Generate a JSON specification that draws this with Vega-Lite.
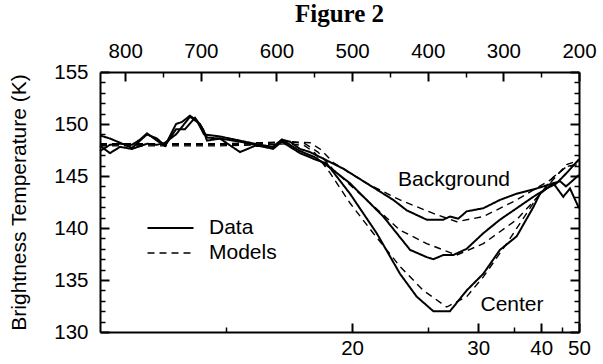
{
  "$schema": "https://vega.github.io/schema/vega-lite/v6.json",
  "width": 479,
  "height": 260,
  "autosize": {"type": "none"},
  "padding": {"left": 100, "top": 72, "right": 24, "bottom": 32},
  "background": "white",
  "title": {"text": "Figure 2", "font": "Liberation Serif", "fontSize": 25, "fontWeight": "bold", "color": "black", "anchor": "middle", "offset": 14},
  "config": {
    "view": {"stroke": null},
    "axis": {"grid": false, "domainColor": "black", "tickColor": "black", "labelColor": "black", "titleColor": "black", "labelFont": "Liberation Sans", "titleFont": "Liberation Sans", "labelFontSize": 20.5, "titleFontSize": 21, "titleFontWeight": "normal", "domainWidth": 2}
  },
  "data": {"values": [
    {"kind": "Data", "curve": "Background", "wavenumber": 833.3, "temp": 148.9},
    {"kind": "Data", "curve": "Background", "wavenumber": 820.1, "temp": 148.6},
    {"kind": "Data", "curve": "Background", "wavenumber": 806.9, "temp": 148.2},
    {"kind": "Data", "curve": "Background", "wavenumber": 791.0, "temp": 147.7},
    {"kind": "Data", "curve": "Background", "wavenumber": 771.2, "temp": 149.0},
    {"kind": "Data", "curve": "Background", "wavenumber": 758.0, "temp": 148.6},
    {"kind": "Data", "curve": "Background", "wavenumber": 747.4, "temp": 147.9},
    {"kind": "Data", "curve": "Background", "wavenumber": 732.8, "temp": 150.0},
    {"kind": "Data", "curve": "Background", "wavenumber": 724.9, "temp": 150.2},
    {"kind": "Data", "curve": "Background", "wavenumber": 714.3, "temp": 150.8},
    {"kind": "Data", "curve": "Background", "wavenumber": 705.1, "temp": 150.3},
    {"kind": "Data", "curve": "Background", "wavenumber": 695.8, "temp": 149.0},
    {"kind": "Data", "curve": "Background", "wavenumber": 674.7, "temp": 148.8},
    {"kind": "Data", "curve": "Background", "wavenumber": 648.2, "temp": 148.4},
    {"kind": "Data", "curve": "Background", "wavenumber": 621.8, "temp": 148.0},
    {"kind": "Data", "curve": "Background", "wavenumber": 604.6, "temp": 147.8},
    {"kind": "Data", "curve": "Background", "wavenumber": 592.7, "temp": 148.5},
    {"kind": "Data", "curve": "Background", "wavenumber": 582.1, "temp": 148.3},
    {"kind": "Data", "curve": "Background", "wavenumber": 568.9, "temp": 147.6},
    {"kind": "Data", "curve": "Background", "wavenumber": 555.7, "temp": 147.3},
    {"kind": "Data", "curve": "Background", "wavenumber": 533.6, "temp": 146.5},
    {"kind": "Data", "curve": "Background", "wavenumber": 511.6, "temp": 145.7},
    {"kind": "Data", "curve": "Background", "wavenumber": 480.7, "temp": 144.3},
    {"kind": "Data", "curve": "Background", "wavenumber": 445.5, "temp": 142.7},
    {"kind": "Data", "curve": "Background", "wavenumber": 427.8, "temp": 141.7},
    {"kind": "Data", "curve": "Background", "wavenumber": 401.4, "temp": 140.8},
    {"kind": "Data", "curve": "Background", "wavenumber": 379.4, "temp": 140.8},
    {"kind": "Data", "curve": "Background", "wavenumber": 370.6, "temp": 141.1},
    {"kind": "Data", "curve": "Background", "wavenumber": 359.6, "temp": 140.9},
    {"kind": "Data", "curve": "Background", "wavenumber": 348.5, "temp": 141.6},
    {"kind": "Data", "curve": "Background", "wavenumber": 326.5, "temp": 141.9},
    {"kind": "Data", "curve": "Background", "wavenumber": 304.5, "temp": 142.7},
    {"kind": "Data", "curve": "Background", "wavenumber": 282.4, "temp": 143.3},
    {"kind": "Data", "curve": "Background", "wavenumber": 260.4, "temp": 143.7},
    {"kind": "Data", "curve": "Background", "wavenumber": 233.9, "temp": 144.3},
    {"kind": "Data", "curve": "Background", "wavenumber": 225.1, "temp": 144.5},
    {"kind": "Data", "curve": "Background", "wavenumber": 217.2, "temp": 144.0},
    {"kind": "Data", "curve": "Background", "wavenumber": 200.0, "temp": 145.1},
    {"kind": "Data", "curve": "Middle", "wavenumber": 833.3, "temp": 147.4},
    {"kind": "Data", "curve": "Middle", "wavenumber": 820.1, "temp": 148.0},
    {"kind": "Data", "curve": "Middle", "wavenumber": 806.9, "temp": 148.1},
    {"kind": "Data", "curve": "Middle", "wavenumber": 791.0, "temp": 148.0},
    {"kind": "Data", "curve": "Middle", "wavenumber": 780.4, "temp": 148.5},
    {"kind": "Data", "curve": "Middle", "wavenumber": 771.2, "temp": 149.1},
    {"kind": "Data", "curve": "Middle", "wavenumber": 758.0, "temp": 148.4},
    {"kind": "Data", "curve": "Middle", "wavenumber": 747.4, "temp": 147.9},
    {"kind": "Data", "curve": "Middle", "wavenumber": 732.8, "temp": 149.5},
    {"kind": "Data", "curve": "Middle", "wavenumber": 720.9, "temp": 149.5},
    {"kind": "Data", "curve": "Middle", "wavenumber": 707.7, "temp": 150.6},
    {"kind": "Data", "curve": "Middle", "wavenumber": 697.1, "temp": 149.5},
    {"kind": "Data", "curve": "Middle", "wavenumber": 691.9, "temp": 148.4},
    {"kind": "Data", "curve": "Middle", "wavenumber": 674.7, "temp": 148.6},
    {"kind": "Data", "curve": "Middle", "wavenumber": 648.2, "temp": 147.3},
    {"kind": "Data", "curve": "Middle", "wavenumber": 628.4, "temp": 147.9},
    {"kind": "Data", "curve": "Middle", "wavenumber": 604.6, "temp": 147.8},
    {"kind": "Data", "curve": "Middle", "wavenumber": 592.7, "temp": 148.5},
    {"kind": "Data", "curve": "Middle", "wavenumber": 582.1, "temp": 148.0},
    {"kind": "Data", "curve": "Middle", "wavenumber": 568.9, "temp": 147.4},
    {"kind": "Data", "curve": "Middle", "wavenumber": 549.1, "temp": 146.8},
    {"kind": "Data", "curve": "Middle", "wavenumber": 529.2, "temp": 145.8},
    {"kind": "Data", "curve": "Middle", "wavenumber": 502.8, "temp": 144.3},
    {"kind": "Data", "curve": "Middle", "wavenumber": 458.7, "temp": 141.1},
    {"kind": "Data", "curve": "Middle", "wavenumber": 423.4, "temp": 137.9},
    {"kind": "Data", "curve": "Middle", "wavenumber": 401.4, "temp": 137.2},
    {"kind": "Data", "curve": "Middle", "wavenumber": 392.6, "temp": 137.0},
    {"kind": "Data", "curve": "Middle", "wavenumber": 379.4, "temp": 137.4},
    {"kind": "Data", "curve": "Middle", "wavenumber": 366.2, "temp": 137.4},
    {"kind": "Data", "curve": "Middle", "wavenumber": 348.5, "temp": 138.0},
    {"kind": "Data", "curve": "Middle", "wavenumber": 326.5, "temp": 139.5},
    {"kind": "Data", "curve": "Middle", "wavenumber": 304.5, "temp": 140.8},
    {"kind": "Data", "curve": "Middle", "wavenumber": 282.4, "temp": 141.9},
    {"kind": "Data", "curve": "Middle", "wavenumber": 260.4, "temp": 143.0},
    {"kind": "Data", "curve": "Middle", "wavenumber": 242.7, "temp": 143.8},
    {"kind": "Data", "curve": "Middle", "wavenumber": 229.5, "temp": 144.3},
    {"kind": "Data", "curve": "Middle", "wavenumber": 216.3, "temp": 145.3},
    {"kind": "Data", "curve": "Middle", "wavenumber": 200.0, "temp": 146.6},
    {"kind": "Data", "curve": "Center", "wavenumber": 833.3, "temp": 147.9},
    {"kind": "Data", "curve": "Center", "wavenumber": 820.1, "temp": 147.2},
    {"kind": "Data", "curve": "Center", "wavenumber": 806.9, "temp": 147.8},
    {"kind": "Data", "curve": "Center", "wavenumber": 791.0, "temp": 147.6},
    {"kind": "Data", "curve": "Center", "wavenumber": 771.2, "temp": 148.1},
    {"kind": "Data", "curve": "Center", "wavenumber": 758.0, "temp": 148.0},
    {"kind": "Data", "curve": "Center", "wavenumber": 747.4, "temp": 148.2},
    {"kind": "Data", "curve": "Center", "wavenumber": 732.8, "temp": 149.0},
    {"kind": "Data", "curve": "Center", "wavenumber": 714.3, "temp": 150.7},
    {"kind": "Data", "curve": "Center", "wavenumber": 701.1, "temp": 150.0},
    {"kind": "Data", "curve": "Center", "wavenumber": 691.9, "temp": 148.7},
    {"kind": "Data", "curve": "Center", "wavenumber": 674.7, "temp": 148.6},
    {"kind": "Data", "curve": "Center", "wavenumber": 648.2, "temp": 148.3},
    {"kind": "Data", "curve": "Center", "wavenumber": 621.8, "temp": 147.9},
    {"kind": "Data", "curve": "Center", "wavenumber": 604.6, "temp": 147.6},
    {"kind": "Data", "curve": "Center", "wavenumber": 592.7, "temp": 148.3},
    {"kind": "Data", "curve": "Center", "wavenumber": 582.1, "temp": 147.8},
    {"kind": "Data", "curve": "Center", "wavenumber": 568.9, "temp": 147.2},
    {"kind": "Data", "curve": "Center", "wavenumber": 549.1, "temp": 146.6},
    {"kind": "Data", "curve": "Center", "wavenumber": 533.6, "temp": 146.2},
    {"kind": "Data", "curve": "Center", "wavenumber": 502.8, "temp": 143.3},
    {"kind": "Data", "curve": "Center", "wavenumber": 467.5, "temp": 139.5},
    {"kind": "Data", "curve": "Center", "wavenumber": 436.7, "temp": 135.6},
    {"kind": "Data", "curve": "Center", "wavenumber": 414.6, "temp": 133.4},
    {"kind": "Data", "curve": "Center", "wavenumber": 392.6, "temp": 132.0},
    {"kind": "Data", "curve": "Center", "wavenumber": 370.6, "temp": 132.0},
    {"kind": "Data", "curve": "Center", "wavenumber": 348.5, "temp": 134.0},
    {"kind": "Data", "curve": "Center", "wavenumber": 326.5, "temp": 135.6},
    {"kind": "Data", "curve": "Center", "wavenumber": 304.5, "temp": 137.9},
    {"kind": "Data", "curve": "Center", "wavenumber": 282.4, "temp": 139.2},
    {"kind": "Data", "curve": "Center", "wavenumber": 260.4, "temp": 142.0},
    {"kind": "Data", "curve": "Center", "wavenumber": 251.6, "temp": 143.3},
    {"kind": "Data", "curve": "Center", "wavenumber": 233.9, "temp": 144.3},
    {"kind": "Data", "curve": "Center", "wavenumber": 220.8, "temp": 143.0},
    {"kind": "Data", "curve": "Center", "wavenumber": 211.9, "temp": 143.8},
    {"kind": "Data", "curve": "Center", "wavenumber": 200.0, "temp": 141.9},
    {"kind": "Models", "curve": "Background", "wavenumber": 833.3, "temp": 148.0},
    {"kind": "Models", "curve": "Background", "wavenumber": 754.0, "temp": 148.0},
    {"kind": "Models", "curve": "Background", "wavenumber": 674.7, "temp": 148.0},
    {"kind": "Models", "curve": "Background", "wavenumber": 621.8, "temp": 148.1},
    {"kind": "Models", "curve": "Background", "wavenumber": 582.1, "temp": 148.3},
    {"kind": "Models", "curve": "Background", "wavenumber": 555.7, "temp": 148.2},
    {"kind": "Models", "curve": "Background", "wavenumber": 542.4, "temp": 147.6},
    {"kind": "Models", "curve": "Background", "wavenumber": 524.9, "temp": 146.3},
    {"kind": "Models", "curve": "Background", "wavenumber": 480.7, "temp": 144.3},
    {"kind": "Models", "curve": "Background", "wavenumber": 436.7, "temp": 142.7},
    {"kind": "Models", "curve": "Background", "wavenumber": 392.6, "temp": 141.4},
    {"kind": "Models", "curve": "Background", "wavenumber": 361.7, "temp": 140.6},
    {"kind": "Models", "curve": "Background", "wavenumber": 326.5, "temp": 141.1},
    {"kind": "Models", "curve": "Background", "wavenumber": 282.4, "temp": 142.7},
    {"kind": "Models", "curve": "Background", "wavenumber": 238.3, "temp": 144.6},
    {"kind": "Models", "curve": "Background", "wavenumber": 216.3, "temp": 145.9},
    {"kind": "Models", "curve": "Background", "wavenumber": 200.0, "temp": 146.2},
    {"kind": "Models", "curve": "Middle", "wavenumber": 833.3, "temp": 148.1},
    {"kind": "Models", "curve": "Middle", "wavenumber": 754.0, "temp": 148.1},
    {"kind": "Models", "curve": "Middle", "wavenumber": 674.7, "temp": 148.1},
    {"kind": "Models", "curve": "Middle", "wavenumber": 621.8, "temp": 148.2},
    {"kind": "Models", "curve": "Middle", "wavenumber": 582.1, "temp": 148.3},
    {"kind": "Models", "curve": "Middle", "wavenumber": 562.3, "temp": 148.1},
    {"kind": "Models", "curve": "Middle", "wavenumber": 545.1, "temp": 147.3},
    {"kind": "Models", "curve": "Middle", "wavenumber": 524.9, "temp": 145.6},
    {"kind": "Models", "curve": "Middle", "wavenumber": 480.7, "temp": 142.7},
    {"kind": "Models", "curve": "Middle", "wavenumber": 436.7, "temp": 139.8},
    {"kind": "Models", "curve": "Middle", "wavenumber": 401.4, "temp": 138.5},
    {"kind": "Models", "curve": "Middle", "wavenumber": 361.7, "temp": 137.4},
    {"kind": "Models", "curve": "Middle", "wavenumber": 326.5, "temp": 138.5},
    {"kind": "Models", "curve": "Middle", "wavenumber": 282.4, "temp": 140.8},
    {"kind": "Models", "curve": "Middle", "wavenumber": 238.3, "temp": 144.3},
    {"kind": "Models", "curve": "Middle", "wavenumber": 216.3, "temp": 146.1},
    {"kind": "Models", "curve": "Middle", "wavenumber": 200.0, "temp": 146.5},
    {"kind": "Models", "curve": "Center", "wavenumber": 833.3, "temp": 147.9},
    {"kind": "Models", "curve": "Center", "wavenumber": 754.0, "temp": 147.9},
    {"kind": "Models", "curve": "Center", "wavenumber": 674.7, "temp": 147.9},
    {"kind": "Models", "curve": "Center", "wavenumber": 621.8, "temp": 148.0},
    {"kind": "Models", "curve": "Center", "wavenumber": 582.1, "temp": 148.1},
    {"kind": "Models", "curve": "Center", "wavenumber": 562.3, "temp": 147.9},
    {"kind": "Models", "curve": "Center", "wavenumber": 549.1, "temp": 147.2},
    {"kind": "Models", "curve": "Center", "wavenumber": 529.2, "temp": 145.3},
    {"kind": "Models", "curve": "Center", "wavenumber": 502.8, "temp": 142.4},
    {"kind": "Models", "curve": "Center", "wavenumber": 472.0, "temp": 139.5},
    {"kind": "Models", "curve": "Center", "wavenumber": 436.7, "temp": 136.3},
    {"kind": "Models", "curve": "Center", "wavenumber": 405.9, "temp": 134.0},
    {"kind": "Models", "curve": "Center", "wavenumber": 374.9, "temp": 132.4},
    {"kind": "Models", "curve": "Center", "wavenumber": 348.5, "temp": 133.4},
    {"kind": "Models", "curve": "Center", "wavenumber": 326.5, "temp": 135.3},
    {"kind": "Models", "curve": "Center", "wavenumber": 295.6, "temp": 138.5},
    {"kind": "Models", "curve": "Center", "wavenumber": 260.4, "temp": 142.4},
    {"kind": "Models", "curve": "Center", "wavenumber": 233.9, "temp": 144.9},
    {"kind": "Models", "curve": "Center", "wavenumber": 216.3, "temp": 145.9},
    {"kind": "Models", "curve": "Center", "wavenumber": 200.0, "temp": 146.1}
  ]},
  "layer": [
    {
      "mark": {"type": "line", "color": "black"},
      "encoding": {
        "x": {"field": "wavenumber", "type": "quantitative",
          "scale": {"domain": [200, 833.333], "reverse": true, "nice": false, "zero": false},
          "axis": {"orient": "bottom", "values": [500, 333.333, 250, 200], "labelExpr": "'' + round(10000 / datum.value)", "tickSize": -9, "tickWidth": 2, "labelPadding": 15, "labelFlush": false, "title": null}},
        "y": {"field": "temp", "type": "quantitative",
          "scale": {"domain": [130, 155], "nice": false, "zero": false},
          "axis": {"orient": "left", "values": [130, 135, 140, 145, 150, 155], "tickSize": -9, "tickWidth": 2, "labelPadding": 21, "title": "Brightness Temperature (K)", "titlePadding": 24}},
        "strokeDash": {"field": "kind", "type": "nominal",
          "scale": {"domain": ["Data", "Models"], "range": [[1, 0], [7, 5]]},
          "legend": {"orient": "none", "legendX": 60, "legendY": 145.5, "title": null, "symbolType": "M-4.6,0H4.6", "symbolSize": 100, "symbolStrokeColor": "black", "symbolStrokeWidth": 2, "labelFontSize": 21, "labelFont": "Liberation Sans", "labelColor": "black", "labelOffset": 28, "rowPadding": 3, "padding": 0}},
        "strokeWidth": {"field": "kind", "type": "nominal", "scale": {"domain": ["Data", "Models"], "range": [2, 1.4]}, "legend": null},
        "detail": {"field": "curve", "type": "nominal"}
      }
    },
    {
      "mark": {"type": "point", "opacity": 0},
      "encoding": {
        "x": {"field": "wavenumber", "type": "quantitative",
          "scale": {"domain": [200, 833.333], "reverse": true, "nice": false, "zero": false},
          "axis": {"orient": "bottom", "values": [666.667, 400, 285.714, 222.222], "labels": false, "domain": false, "tickSize": -5, "tickWidth": 1.5, "title": null}},
        "y": {"field": "temp", "type": "quantitative",
          "scale": {"domain": [130, 155], "nice": false, "zero": false},
          "axis": {"orient": "left", "values": [131, 132, 133, 134, 136, 137, 138, 139, 141, 142, 143, 144, 146, 147, 148, 149, 151, 152, 153, 154], "labels": false, "domain": false, "tickSize": -5, "tickWidth": 1.5, "title": null}}
      }
    },
    {
      "mark": {"type": "point", "opacity": 0},
      "encoding": {
        "x": {"field": "wavenumber", "type": "quantitative",
          "scale": {"domain": [200, 833.333], "reverse": true, "nice": false, "zero": false},
          "axis": {"orient": "top", "values": [800, 700, 600, 500, 400, 300, 200], "tickSize": -9, "tickWidth": 2, "labelPadding": 20, "labelFlush": false, "title": null}},
        "y": {"field": "temp", "type": "quantitative",
          "scale": {"domain": [130, 155], "nice": false, "zero": false},
          "axis": {"orient": "right", "values": [130, 135, 140, 145, 150, 155], "labels": false, "tickSize": -9, "tickWidth": 2, "title": null}}
      }
    },
    {
      "mark": {"type": "point", "opacity": 0},
      "encoding": {
        "x": {"field": "wavenumber", "type": "quantitative",
          "scale": {"domain": [200, 833.333], "reverse": true, "nice": false, "zero": false},
          "axis": {"orient": "top", "values": [750, 650, 550, 450, 350, 250], "labels": false, "domain": false, "tickSize": -5, "tickWidth": 1.5, "title": null}},
        "y": {"field": "temp", "type": "quantitative",
          "scale": {"domain": [130, 155], "nice": false, "zero": false},
          "axis": {"orient": "right", "values": [131, 132, 133, 134, 136, 137, 138, 139, 141, 142, 143, 144, 146, 147, 148, 149, 151, 152, 153, 154], "labels": false, "domain": false, "tickSize": -5, "tickWidth": 1.5, "title": null}}
      }
    },
    {
      "data": {"values": [
        {"label": "Background", "wavenumber": 365.3, "temp": 144.6},
        {"label": "Center", "wavenumber": 288.6, "temp": 132.6}
      ]},
      "mark": {"type": "text", "font": "Liberation Sans", "fontSize": 21, "color": "black", "align": "center", "baseline": "middle"},
      "encoding": {
        "x": {"field": "wavenumber", "type": "quantitative", "axis": null},
        "y": {"field": "temp", "type": "quantitative", "axis": null},
        "text": {"field": "label", "type": "nominal"}
      }
    }
  ],
  "resolve": {"axis": {"x": "independent", "y": "independent"}}
}
